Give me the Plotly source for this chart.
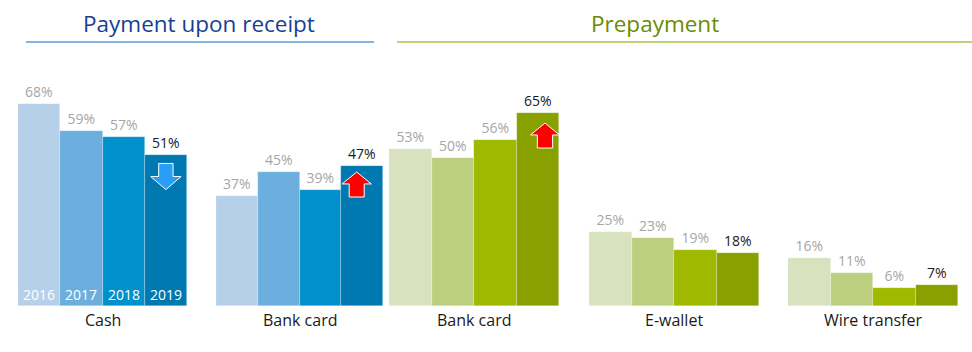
import plotly.graph_objects as go

# ---- data ----
years = ["2016", "2017", "2018", "2019"]
group_labels = ["Cash", "Bank card", "Bank card", "E-wallet", "Wire transfer"]
cash = [68, 59, 57, 51]
bank_card_receipt = [37, 45, 39, 47]
bank_card_prepay = [53, 50, 56, 65]
e_wallet = [25, 23, 19, 18]
wire_transfer = [16, 11, 6, 7]
section_titles = ["Payment upon receipt", "Prepayment"]

series = [cash, bank_card_receipt, bank_card_prepay, e_wallet, wire_transfer]

# ---- styling ----
W, H = 972, 352
FONT = "Open Sans"
blues = ["#b7d0e9", "#6cafdf", "#0090cc", "#0079b0"]
greens = ["#d8e2bf", "#bccf7f", "#9fb800", "#88a000"]
palettes = [blues, blues, greens, greens, greens]
group_px = [(18, 187), (216, 383), (389, 559), (589, 759), (788, 958)]
baseline_px = 306
px_per_pct = 2.97

fig = go.Figure()
layout_axes = {}
for i, (vals, pal, (x0, x1)) in enumerate(zip(series, palettes, group_px)):
    n = "" if i == 0 else str(i + 1)
    xs = list(range(len(years)))
    fig.add_trace(go.Bar(
        x=xs, y=vals, xaxis="x" + n, yaxis="y" + n,
        marker=dict(color=pal, line=dict(color="rgba(255,255,255,0.45)", width=0.6)),
        text=[f"{v}%" for v in vals], textposition="outside",
        textfont=dict(family=FONT, size=14,
                      color=["#a6a6a6"] * (len(vals) - 1) + ["#1a1a1a"]),
        cliponaxis=False, width=1.0, showlegend=False, hoverinfo="skip",
    ))
    layout_axes["xaxis" + n] = dict(domain=[x0 / W, x1 / W], range=[-0.5, 3.5],
                                    visible=False, fixedrange=True)
    layout_axes["yaxis" + n] = dict(domain=[(H - baseline_px) / H, 1],
                                    range=[0, baseline_px / px_per_pct],
                                    visible=False, fixedrange=True)

fig.update_layout(**layout_axes)

annotations = []
# year labels inside cash bars
for j, yr in enumerate(years):
    annotations.append(dict(x=j, y=0, xref="x", yref="y", text=yr, showarrow=False,
                            xanchor="center", yanchor="bottom", yshift=0,
                            font=dict(family=FONT, size=14, color="white")))
# group labels
for i, lab in enumerate(group_labels):
    n = "" if i == 0 else str(i + 1)
    annotations.append(dict(x=0.5, xref="x" + n + " domain", y=1 - 320 / H, yref="paper",
                            text=lab, showarrow=False, xanchor="center", yanchor="middle",
                            font=dict(family=FONT, size=16, color="#1a1a1a")))
# section titles
annotations.append(dict(x=199 / W, y=1 - 24 / H, xref="paper", yref="paper",
                        text=section_titles[0], showarrow=False,
                        xanchor="center", yanchor="middle",
                        font=dict(family=FONT, size=22.5, color="#173f91")))
annotations.append(dict(x=655 / W, y=1 - 24 / H, xref="paper", yref="paper",
                        text=section_titles[1], showarrow=False,
                        xanchor="center", yanchor="middle",
                        font=dict(family=FONT, size=22.5, color="#6a8c00")))

shapes = [
    dict(type="line", xref="paper", yref="paper", x0=26 / W, x1=374 / W,
         y0=1 - 42 / H, y1=1 - 42 / H, line=dict(color="#5b9bd5", width=1.5)),
    dict(type="line", xref="paper", yref="paper", x0=397 / W, x1=1,
         y0=1 - 42 / H, y1=1 - 42 / H, line=dict(color="#a9c34d", width=1.5)),
]


def arrow_path(cx, half_head, half_shaft, tail, head_base, tip):
    """Block arrow (tail/head_base/tip in % units relative to axis)."""
    return (f"M {cx - half_shaft} {tail} L {cx + half_shaft} {tail} "
            f"L {cx + half_shaft} {head_base} L {cx + half_head} {head_base} "
            f"L {cx} {tip} L {cx - half_head} {head_base} "
            f"L {cx - half_shaft} {head_base} Z")


# down arrow in cash 2019
v = cash[3]
shapes.append(dict(type="path", xref="x", yref="y",
                   path=arrow_path(3.0, 0.36, 0.17, v - 3.0, v - 7.4, v - 11.8),
                   fillcolor="#2a9df4", line=dict(color="white", width=1)))
# up arrow in bank card (receipt) 2019
v = bank_card_receipt[3]
shapes.append(dict(type="path", xref="x2", yref="y2",
                   path=arrow_path(2.87, 0.35, 0.18, v - 10.3, v - 5.9, v - 1.9),
                   fillcolor="#ff0000", line=dict(color="white", width=1)))
# up arrow in bank card (prepay) 2019
v = bank_card_prepay[3]
shapes.append(dict(type="path", xref="x3", yref="y3",
                   path=arrow_path(3.17, 0.34, 0.18, v - 11.8, v - 7.4, v - 3.4),
                   fillcolor="#ff0000", line=dict(color="white", width=1)))

fig.update_layout(
    width=W, height=H, margin=dict(l=0, r=0, t=0, b=0),
    paper_bgcolor="white", plot_bgcolor="white",
    bargap=0, annotations=annotations, shapes=shapes,
    font=dict(family=FONT),
)

fig.write_html("out.html")
